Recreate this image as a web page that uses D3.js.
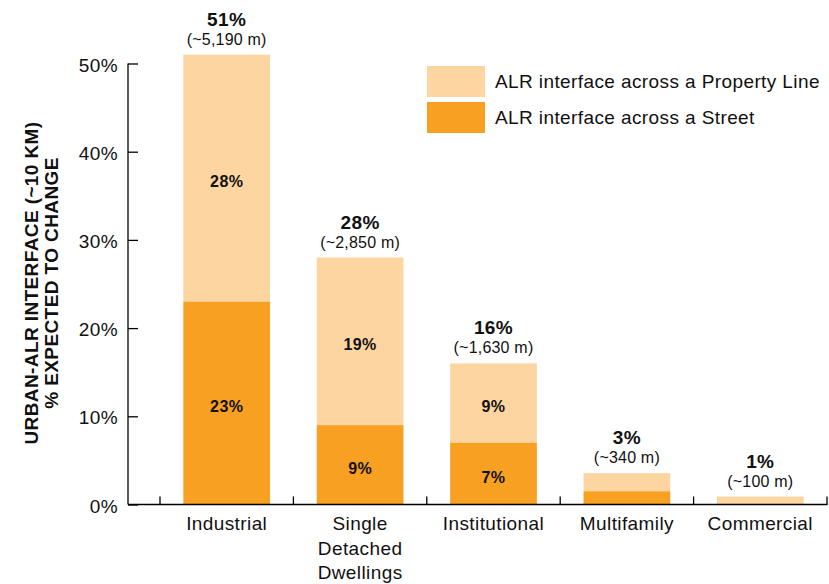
<!DOCTYPE html>
<html><head><meta charset="utf-8">
<script src="https://cdn.jsdelivr.net/npm/d3@7"></script>
<style>body{margin:0;background:#fff}svg{display:block;font-family:"Liberation Sans",Arial,Helvetica,sans-serif}</style>
</head><body>
<svg id="c" width="829" height="584"></svg>
<script>
const categories = ["Industrial", "Single\nDetached\nDwellings", "Institutional", "Multifamily", "Commercial"];
const streetValues = [23, 9, 7, 1.5, 0];
const propertyValues = [28, 19, 9, 2.05, 0.9];
const totalLabels = ["51%", "28%", "16%", "3%", "1%"];
const lengthLabels = ["(~5,190 m)", "(~2,850 m)", "(~1,630 m)", "(~340 m)", "(~100 m)"];
const streetLabels = ["23%", "9%", "7%", "", ""];
const propertyLabels = ["28%", "19%", "9%", "", ""];
const yTicks = [0, 10, 20, 30, 40, 50];
const legendLabels = ["ALR interface across a Property Line", "ALR interface across a Street"];

const colLight = "#FDD5A0", colDark = "#F7A021";
const LS = "0.4px";
const svg = d3.select("#c");
const y = d3.scaleLinear().domain([0, 50]).range([504.5, 63.5]);
const x = d3.scaleBand().domain(categories).range([160, 827]).paddingInner(0.35).paddingOuter(0.175);

// bars
const g = svg.append("g");
categories.forEach((c, i) => {
  const s = streetValues[i], p = propertyValues[i];
  g.append("rect").attr("x", x(c)).attr("width", x.bandwidth())
    .attr("y", y(s + p)).attr("height", y(s) - y(s + p)).attr("fill", colLight);
  if (s > 0) g.append("rect").attr("x", x(c)).attr("width", x.bandwidth())
    .attr("y", y(s)).attr("height", y(0) - y(s)).attr("fill", colDark);
  const cx = x(c) + x.bandwidth() / 2;
  if (propertyLabels[i]) g.append("text").attr("x", cx).attr("y", y(s + p / 2) + 9)
    .attr("text-anchor", "middle").attr("font-size", 16).attr("font-weight", "bold").attr("letter-spacing", LS).attr("fill", "#111").text(propertyLabels[i]);
  if (streetLabels[i]) g.append("text").attr("x", cx).attr("y", y(s / 2) + 9)
    .attr("text-anchor", "middle").attr("font-size", 16).attr("font-weight", "bold").attr("letter-spacing", LS).attr("fill", "#111").text(streetLabels[i]);
  const top = y(s + p);
  g.append("text").attr("x", cx).attr("y", top - 29).attr("text-anchor", "middle")
    .attr("font-size", 19).attr("font-weight", "bold").attr("letter-spacing", LS).attr("fill", "#111").text(totalLabels[i]);
  g.append("text").attr("x", cx).attr("y", top - 10).attr("text-anchor", "middle")
    .attr("font-size", 16).attr("letter-spacing", "0.2px").attr("fill", "#111").text(lengthLabels[i]);
});

// y axis
const yAxis = d3.axisLeft(y).tickValues(yTicks).tickFormat(d => d + "%").tickSize(-10).tickPadding(10);
const ya = svg.append("g").attr("transform", "translate(128,0)").call(yAxis);
ya.select(".domain").remove();
ya.append("line").attr("x1", 0).attr("x2", 0).attr("y1", y(50)).attr("y2", y(0)).attr("stroke", "#000").attr("stroke-width", 1.3);
ya.selectAll(".tick line").attr("stroke", "#000").attr("stroke-width", 1.3);
ya.selectAll(".tick text").attr("font-size", 19).attr("letter-spacing", LS).attr("fill", "#111")
  .attr("font-family", "Liberation Sans, Arial, sans-serif").attr("dy", "0.4em");

// x axis
const xa = svg.append("g");
xa.append("line").attr("x1", 128).attr("x2", 827.5).attr("y1", y(0)).attr("y2", y(0)).attr("stroke", "#000").attr("stroke-width", 1.3);
const bounds = categories.map(c => x(c) - x.step() * x.paddingInner() / 2).concat([x(categories[categories.length - 1]) + x.bandwidth() + x.step() * x.paddingInner() / 2]);
xa.selectAll(".bt").data(bounds).join("line").attr("x1", d => d).attr("x2", d => d)
  .attr("y1", y(0)).attr("y2", y(0) - 8).attr("stroke", "#000").attr("stroke-width", 1.3);
categories.forEach(c => {
  const t = xa.append("text").attr("x", x(c) + x.bandwidth() / 2).attr("y", 530).attr("text-anchor", "middle")
    .attr("font-size", 19).attr("letter-spacing", LS).attr("fill", "#111");
  c.split("\n").forEach((l, j) => t.append("tspan").attr("x", x(c) + x.bandwidth() / 2).attr("dy", j ? 24.5 : 0).text(l));
});

// y title
const yt = svg.append("text").attr("transform", "translate(0,283) rotate(-90)").attr("text-anchor", "middle")
  .attr("font-size", 19).attr("font-weight", "bold").attr("letter-spacing", LS).attr("fill", "#111");
yt.append("tspan").attr("x", 0).attr("y", 38).text("URBAN-ALR INTERFACE (~10 KM)");
yt.append("tspan").attr("x", 0).attr("y", 58).text("% EXPECTED TO CHANGE");

// legend
const lg = svg.append("g");
[colLight, colDark].forEach((col, i) => {
  lg.append("rect").attr("x", 427).attr("y", 66 + i * 36).attr("width", 58).attr("height", 31).attr("fill", col);
  lg.append("text").attr("x", 495).attr("y", 88 + i * 36).attr("font-size", 19).attr("letter-spacing", LS).attr("fill", "#111").text(legendLabels[i]);
});
</script>
</body></html>
